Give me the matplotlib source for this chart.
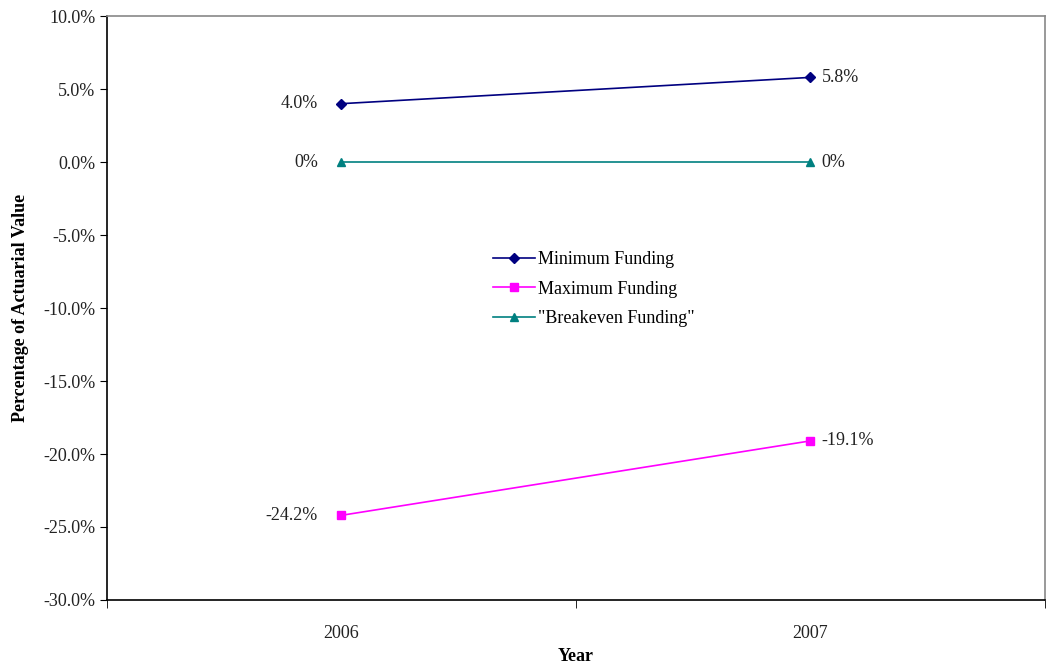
import numpy as np
import matplotlib
matplotlib.use("Agg")
import matplotlib.pyplot as plt
from matplotlib.ticker import FixedLocator, NullFormatter

years = ["2006", "2007"]
min_funding = [4.0, 5.8]
max_funding = [-24.2, -19.1]
breakeven = [0.0, 0.0]
min_labels = ["4.0%", "5.8%"]
max_labels = ["-24.2%", "-19.1%"]
be_labels = ["0%", "0%"]

plt.rcParams["font.family"] = ["Liberation Serif", "DejaVu Serif"]
plt.rcParams["font.size"] = 13

fig = plt.figure(figsize=(10.47, 6.7), dpi=100)
ax = fig.add_axes([0.1022, 0.1045, 0.8958, 0.8715])

x = np.arange(len(years))
ax.plot(x, min_funding, "-D", color="#000080", ms=5, lw=1.2, label="Minimum Funding")
ax.plot(x, max_funding, "-s", color="#ff00ff", ms=6, lw=1.2, label="Maximum Funding")
ax.plot(x, breakeven, "-^", color="#008080", ms=6, lw=1.2, label='"Breakeven Funding"')

def annotate(vals, labels):
    ax.annotate(labels[0], (x[0], vals[0]), xytext=(-17, 0), textcoords="offset points",
                ha="right", va="center", color="#222222")
    ax.annotate(labels[1], (x[1], vals[1]), xytext=(8, 0), textcoords="offset points",
                ha="left", va="center", color="#222222")

annotate(min_funding, min_labels)
annotate(max_funding, max_labels)
annotate(breakeven, be_labels)

ax.set_xlim(-0.5, 1.5)
ax.set_ylim(-30, 10)
ax.set_xticks(x, years)
ax.tick_params(axis="x", which="major", length=0, pad=18)
ax.xaxis.set_minor_locator(FixedLocator([-0.5, 0.5, 1.5]))
ax.xaxis.set_minor_formatter(NullFormatter())
ax.tick_params(axis="x", which="minor", length=6, direction="out", color="black")
yt = np.arange(-30, 10.1, 5)
ax.set_yticks(yt, [f"{v:.1f}%" for v in yt])
ax.tick_params(axis="y", length=5, direction="out", color="black")
ax.tick_params(labelcolor="#222222")

ax.spines["left"].set_color("black")
ax.spines["bottom"].set_color("black")
ax.spines["top"].set_color("#888888")
ax.spines["right"].set_color("#888888")
for s in ax.spines.values():
    s.set_linewidth(1.2)

ax.set_xlabel("Year", fontweight="bold", labelpad=4)
ax.set_ylabel("Percentage of Actuarial Value", fontweight="bold", labelpad=10)

ax.legend(loc="upper left", bbox_to_anchor=(0.404, 0.61), frameon=False,
          handlelength=2.3, handletextpad=0.2, labelspacing=0.7, borderaxespad=0)

fig.savefig("out.png", dpi=100)
